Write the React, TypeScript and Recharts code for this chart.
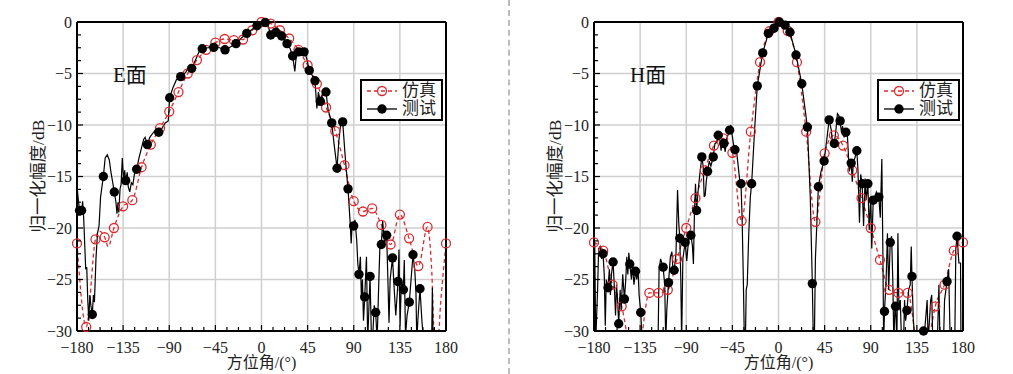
import React from "react";
import { CartesianGrid, ComposedChart, Legend, Line, XAxis, YAxis } from "recharts";

const SERIF = '"Liberation Serif", "Noto Sans CJK SC", serif';
const RED = "#dc2a2e";

const xMajor = [-180, -135, -90, -45, 0, 45, 90, 135, 180];
const xTicks = [
  -180, -168.75, -157.5, -146.25, -135, -123.75, -112.5, -101.25, -90, -78.75, -67.5,
  -56.25, -45, -33.75, -22.5, -11.25, 0, 11.25, 22.5, 33.75, 45, 56.25, 67.5, 78.75,
  90, 101.25, 112.5, 123.75, 135, 146.25, 157.5, 168.75, 180,
];
const yMajor = [0, -5, -10, -15, -20, -25, -30];
const yTicks = [
  0, -1.25, -2.5, -3.75, -5, -6.25, -7.5, -8.75, -10, -11.25, -12.5, -13.75, -15,
  -16.25, -17.5, -18.75, -20, -21.25, -22.5, -23.75, -25, -26.25, -27.5, -28.75, -30,
];

const seriesNames = ["仿真", "测试"];

// E面 仿真 [角度, dB]
const eSim = [
  [-180, -21.5], [-171, -29.6], [-162, -21.1], [-158, -20.3], [-153, -20.9], [-149.5, -21.8],
  [-144, -20.0], [-135, -17.9], [-126, -17.3], [-117, -14.1], [-108, -11.9], [-99, -10.3],
  [-90, -8.7], [-81, -6.8], [-72, -5.0], [-63, -3.7], [-54, -2.7], [-45, -2.0], [-36, -1.65],
  [-27, -1.75], [-18, -1.7], [-9, -0.8], [0, 0], [9, -0.15], [18, -0.8], [27, -1.6],
  [36, -2.7], [45, -4.2], [54, -6.0], [63, -8.3], [72, -10.6], [81, -13.9], [90, -17.4],
  [99, -18.4], [108, -18.1], [117, -19.7], [126, -21.6], [135, -18.7], [144, -21.0],
  [153, -23.7], [162, -19.9], [166, -24], [170, -34], [175, -27], [180, -21.5],
];
const eSimMarks = [
  -180, -171, -162, -153, -144, -135, -126, -117, -108, -99, -90, -81, -72, -63, -54, -45,
  -36, -27, -18, -9, 0, 9, 18, 27, 36, 45, 54, 63, 72, 81, 90, 99, 108, 117, 126, 135, 144,
  153, 162, 180,
];

// E面 测试
const eTest = [
  [-180, -15.8], [-179, -17.0], [-177.5, -18.3], [-175.5, -18.3], [-174.5, -17.4],
  [-173.5, -19], [-171.5, -24], [-170.5, -23.8], [-169.5, -27], [-168.5, -29],
  [-167.5, -26.5], [-166.5, -27.5], [-165.1, -28.4], [-164, -26.5], [-163, -27.2],
  [-161.5, -23], [-160, -20.5], [-158.5, -19.8], [-157, -17], [-154.3, -15.0],
  [-152.5, -13.2], [-150.5, -12.9], [-148.5, -13.4], [-147, -14.5], [-143.6, -16.5],
  [-142, -17.5], [-141, -18.6], [-140, -17.5], [-139.2, -18.5], [-138, -16.2], [-137, -15.8],
  [-135.8, -13.2], [-134.5, -15.5], [-133.5, -14.4], [-132.5, -15.4], [-131, -14.6],
  [-130, -16], [-128.5, -16.5], [-127, -15.6], [-125.5, -15.8], [-124, -14.8],
  [-121.8, -14.3], [-119.5, -13.2], [-117, -12.2], [-115, -11.4], [-113.5, -11.2],
  [-111.4, -11.9], [-109, -11.2], [-106, -10.8], [-103, -10.4], [-100.3, -10.7],
  [-97.5, -10.4], [-94, -9.8], [-91, -9.6], [-89.6, -7.35], [-86.5, -6.4], [-83, -5.6],
  [-78.8, -5.3], [-74, -4.9], [-71, -4.4], [-68.1, -4.5], [-64, -3.6], [-61, -2.9],
  [-57.8, -2.6], [-52, -2.5], [-46.6, -2.46], [-41, -2.5], [-35.6, -2.7], [-30, -2.4],
  [-24.9, -2.1], [-19, -1.5], [-14.4, -1.1], [-9, -0.7], [-4.4, -0.36], [0, -0.1],
  [3.7, -0.05], [6.5, -0.4], [9, -1.26], [14.1, -1.0], [19.7, -1.36], [24.9, -2.1],
  [28, -2.6], [30.4, -3.3], [32.5, -4.8], [34, -3.2], [36.3, -2.9], [41.5, -2.9], [44, -3.5],
  [46.6, -4.7], [49, -5.1], [52.2, -5.7], [54, -8.4], [55.5, -6.8], [57.4, -7.7], [60, -6.9],
  [62.9, -6.8], [65, -8.5], [68.5, -9.8], [71, -12], [73.7, -14.2], [75.5, -11.5],
  [77.5, -9.6], [79.2, -9.7], [82, -13.5], [84.4, -16.2], [86.5, -19.5], [87.5, -21.5],
  [88.5, -19.5], [89.9, -19.8], [91.2, -19.2], [92.9, -21.2], [94, -23.5], [95.1, -24.5],
  [96.5, -22.8], [97.5, -27], [98.5, -25], [99.5, -29], [100.7, -26.7], [102.4, -22.8],
  [103.6, -31], [105.9, -24.7], [107.3, -31], [108.5, -30.5], [110, -27.5], [111.4, -28.2],
  [112.8, -31], [114.5, -25], [115.7, -21.2], [116.9, -21.6], [118.2, -19.3], [120, -21.5],
  [122.1, -20.7], [123.3, -25], [124.4, -29.2], [125.5, -25], [127.8, -22.9], [129.5, -26],
  [131, -28.5], [133.2, -25.2], [134.1, -22.1], [135.2, -29.5], [136.5, -25], [138.4, -26.0],
  [139.3, -23.1], [140.5, -30.5], [142, -28.5], [144.2, -27.2], [147.8, -22.6], [149.5, -24],
  [150.7, -26.3], [151.5, -31], [152.5, -29], [154.6, -25.9], [156.5, -29], [158, -31],
  [166, -31], [166.7, -25.8], [167.4, -31], [180, -31],
];
const eTestMarks = [
  -177.5, -175.5, -165.1, -154.3, -143.6, -132.5, -121.8, -111.4, -100.3, -89.6, -78.8,
  -68.1, -57.8, -46.6, -35.6, -24.9, -14.4, -4.4, 3.7, 9, 14.1, 19.7, 24.9, 30.4, 36.3, 41.5,
  46.6, 52.2, 57.4, 62.9, 68.5, 73.7, 79.2, 84.4, 89.9, 95.1, 100.7, 105.9, 111.4, 116.9,
  122.1, 127.8, 133.2, 138.4, 144.2, 147.8, 154.6,
];

// H面 仿真
const hSim = [
  [-180, -21.4], [-171, -22.2], [-162, -25.5], [-153, -27.6], [-144, -33], [-140, -36],
  [-135, -32], [-126, -26.3], [-117, -26.3], [-108, -26.0], [-99, -23.0], [-90, -20.0],
  [-81, -17.1], [-72, -14.4], [-63, -12.0], [-54, -11.3], [-45, -12.7], [-36, -19.3],
  [-27, -10.65], [-18, -3.9], [-9, -0.9], [0, 0], [9, -0.85], [18, -3.9], [27, -10.65],
  [36, -19.4], [45, -12.75], [54, -11.0], [63, -12.0], [72, -14.4], [81, -17.1], [90, -20.0],
  [99, -23.1], [108, -26.0], [117, -26.3], [126, -26.3], [135, -32], [140, -36], [144, -33],
  [153, -27.6], [162, -25.5], [171, -22.2], [180, -21.4],
];
// markers that fall inside the plotted range
const hSimMarks = [
  -180, -171, -162, -153, -126, -117, -108, -99, -90, -81, -72, -63, -54, -45,
  -36, -27, -18, -9, 0, 9, 18, 27, 36, 45, 54, 63, 72, 81, 90, 99, 108, 117, 126,
  153, 162, 171, 180,
];

// H面 测试
const hTest = [
  [-180, -31], [-179.3, -21.5], [-178.3, -31], [-176.5, -26], [-175.5, -22], [-174, -21.8],
  [-172.5, -23], [-171.2, -22.5], [-170, -24.5], [-169, -29.5], [-168, -25], [-166.3, -25.8],
  [-165, -24], [-164, -26.5], [-163, -24.5], [-161.4, -23.3], [-160, -26], [-159, -28.5],
  [-158, -25.5], [-157, -27], [-155.9, -29.3], [-154.5, -26], [-153.5, -28], [-152, -24.5],
  [-150.3, -26.9], [-149, -25], [-148, -22.8], [-147, -24.5], [-146, -22.4], [-145.1, -23.5],
  [-143.5, -25], [-142.5, -23.6], [-141, -25.5], [-139.5, -24.2], [-138.3, -25], [-137, -24],
  [-136, -26.5], [-134.4, -28.2], [-133, -31], [-117.5, -31], [-116.5, -24], [-115, -23],
  [-112.6, -23.8], [-111, -25.5], [-110, -31], [-109, -28], [-107.3, -25.3], [-105.5, -22.8],
  [-104, -22.3], [-103, -24], [-101.8, -24.1], [-100, -22.5], [-98.5, -16.3], [-97.3, -19.5],
  [-96.3, -21.0], [-95.3, -25], [-94.5, -31], [-93.3, -23], [-91.1, -21.4], [-89.5, -23.2],
  [-88.5, -22], [-87, -20.6], [-85.5, -20.7], [-84, -21.7], [-83, -23.5], [-82, -18.5],
  [-81, -15.7], [-79.9, -18.3], [-78.5, -16.5], [-77, -15], [-74.8, -13.1], [-73.5, -14],
  [-72.5, -17], [-71.5, -16.8], [-70.5, -15.5], [-69.2, -14.5], [-67.5, -13.5], [-66, -14],
  [-63.7, -13.1], [-62, -11.8], [-60.5, -11.7], [-58.8, -11.0], [-57.5, -11.2], [-56, -12.5],
  [-55, -11.5], [-53.3, -11.8], [-52, -12.6], [-50.5, -11.3], [-49, -10.9], [-47.7, -10.5],
  [-46.5, -10.0], [-45.5, -10.8], [-44, -11.8], [-42.5, -12.4], [-41, -12.5], [-39.5, -13.8],
  [-38, -15.2], [-36.6, -15.7], [-35.5, -19], [-34.3, -25], [-33.3, -31], [-32.3, -31],
  [-31.5, -26], [-30.5, -25.5], [-29, -20.5], [-27.5, -17], [-26.2, -15.7], [-23.5, -10.8],
  [-20.7, -6.2], [-15.4, -3.0], [-9.9, -1.1], [-4.4, -0.6], [0.8, 0], [6.4, -0.3],
  [11.2, -1.0], [17.1, -3.2], [22.7, -6.0], [28.2, -10.2], [31, -17], [33, -25.4], [34, -31],
  [35, -31], [36, -23], [38.9, -16.0], [41.5, -14.5], [44.5, -13.5], [47, -11.5], [49.4, -9.5],
  [51.5, -10.5], [52.5, -11.5], [54.5, -11.8], [56, -10.5], [57.5, -8.9], [59, -9.1],
  [60.1, -9.6], [61.5, -10.8], [62.5, -10.1], [64, -11.2], [65.7, -10.7], [67, -10.6],
  [68, -12.5], [69, -14.5], [70.9, -13.7], [72, -15.5], [73, -13.6], [74.5, -13.2],
  [76.4, -12.5], [77.5, -14.3], [79, -19.5], [80.2, -14.8], [81.6, -15.7], [83, -19.8],
  [84.5, -15.2], [85.5, -17.3], [87.2, -15.7], [88.5, -20.2], [90, -17], [91, -22],
  [92.4, -17.3], [94, -17], [95.5, -16.5], [97.9, -17.0], [99.3, -19], [100.8, -13.3],
  [101.8, -22], [102.6, -31], [103.4, -28.1], [105, -25], [106.3, -20.5], [107.5, -26],
  [109, -21.4], [110.3, -20.8], [111.5, -25], [112.5, -31], [113.5, -28], [114.2, -27.6],
  [115.5, -31], [116.5, -20.5], [117.5, -28], [118.8, -27], [120, -31], [122, -31], [123, -27],
  [124, -29], [125.3, -28.0], [127, -26], [128.5, -25.5], [129.5, -21.8], [130.2, -24.7],
  [131.5, -28.8], [133, -31], [141.5, -30], [143, -29.5], [145, -27], [146, -31], [148.5, -27],
  [149.5, -26.5], [150.5, -31], [155, -31], [156.5, -25.5], [157.5, -31], [161, -31],
  [162, -27], [164.4, -25.2], [166, -24], [167.5, -31], [172, -31], [173, -22], [174.2, -20.8],
  [176, -23.4], [177.6, -23.4], [178, -31], [180, -31],
];
const hTestMarks = [
  -171.2, -166.3, -161.4, -155.9, -150.3, -145.1, -139.5, -134.4, -112.6, -107.3, -101.8,
  -96.3, -91.1, -85.5, -79.9, -74.8, -69.2, -63.7, -58.8, -53.3, -47.7, -42.5, -36.6, -26.2,
  -20.7, -15.4, -9.9, -4.4, 0.8, 6.4, 11.2, 17.1, 22.7, 28.2, 33, 38.9, 44.5, 49.4, 54.5,
  60.1, 65.7, 70.9, 76.4, 81.6, 87.2, 92.4, 97.9, 103.4, 109, 114.2, 125.3, 130.2, 141.5,
  164.4, 174.2,
];

const fmt = (v) => (v < 0 ? "\u2212" + Math.abs(v) : String(v));

function XTick({ x, y, payload }) {
  const major = payload.value % 45 === 0;
  return (
    <g>
      <line x1={x} x2={x} y1={y} y2={y - (major ? 6 : 4)} stroke="#000" strokeWidth={1.2} />
      {major && (
        <text x={x} y={y + 22} textAnchor="middle" fontSize={16} fontFamily={SERIF} fill="#222">
          {fmt(payload.value)}
        </text>
      )}
    </g>
  );
}

function YTick({ x, y, payload }) {
  const major = payload.value % 5 === 0;
  return (
    <g>
      <line x1={x} x2={x + (major ? 6 : 4)} y1={y} y2={y} stroke="#000" strokeWidth={1.2} />
      {major && (
        <text x={x - 5} y={y + 5.5} textAnchor="end" fontSize={16} fontFamily={SERIF} fill="#222">
          {fmt(payload.value)}
        </text>
      )}
    </g>
  );
}

function LegendBox() {
  const row = { display: "flex", alignItems: "center", height: 18, whiteSpace: "nowrap" };
  return (
    <div
      style={{
        border: "2px solid #000",
        background: "#fff",
        padding: "1px 3px 1px 4px",
        width: 72,
        fontFamily: SERIF,
        fontSize: 17,
        lineHeight: "18px",
        color: "#222",
      }}
    >
      <div style={row}>
        <svg width={32} height={12}>
          <line x1={1} x2={31} y1={6} y2={6} stroke={RED} strokeWidth={1.3} strokeDasharray="4 3" />
          <circle cx={16} cy={6} r={4.5} fill="none" stroke={RED} strokeWidth={1.3} />
        </svg>
        <span style={{ marginLeft: 4 }}>{seriesNames[0]}</span>
      </div>
      <div style={row}>
        <svg width={32} height={12}>
          <line x1={1} x2={31} y1={6} y2={6} stroke="#000" strokeWidth={1.3} />
          <circle cx={16} cy={6} r={4.7} fill="#000" />
        </svg>
        <span style={{ marginLeft: 4 }}>{seriesNames[1]}</span>
      </div>
    </div>
  );
}

function Panel({ left, title, sim, simMarks, test, testMarks }) {
  const simData = sim.map(([x, y]) => ({ x, y }));
  const testData = test.map(([x, y]) => ({ x, y }));
  const simMarkData = simData.filter((d) => simMarks.includes(d.x));
  const testMarkData = testData.filter((d) => testMarks.includes(d.x));
  const frame = { stroke: "#000", strokeWidth: 2 };

  return (
    <div style={{ position: "absolute", left, top: 0, width: 496, height: 374 }}>
      <ComposedChart width={496} height={374} margin={{ top: 21, right: 49, bottom: 42, left: 76 }}>
        <CartesianGrid stroke="#cfcfcf" strokeWidth={1.5} verticalValues={xMajor} horizontalValues={yMajor} />
        <XAxis
          type="number"
          dataKey="x"
          domain={[-180, 180]}
          ticks={xTicks}
          interval={0}
          allowDataOverflow
          height={1}
          tickSize={0}
          tickMargin={0}
          tickLine={false}
          axisLine={frame}
          tick={<XTick />}
        />
        <XAxis
          xAxisId="top"
          orientation="top"
          type="number"
          domain={[-180, 180]}
          ticks={xMajor}
          height={1}
          tick={false}
          tickLine={false}
          axisLine={frame}
        />
        <YAxis
          type="number"
          domain={[-30, 0]}
          ticks={yTicks}
          interval={0}
          allowDataOverflow
          width={1}
          tickSize={0}
          tickMargin={0}
          tickLine={false}
          axisLine={frame}
          tick={<YTick />}
        />
        <YAxis
          yAxisId="right"
          orientation="right"
          type="number"
          domain={[-30, 0]}
          ticks={yMajor}
          width={1}
          tick={false}
          tickLine={false}
          axisLine={frame}
        />
        <Line
          data={simData}
          dataKey="y"
          type="monotone"
          stroke={RED}
          strokeWidth={1.3}
          strokeDasharray="4 3"
          dot={false}
          activeDot={false}
          isAnimationActive={false}
          name={seriesNames[0]}
        />
        <Line
          data={simMarkData}
          dataKey="y"
          stroke="none"
          dot={{ r: 4.5, fill: "none", stroke: RED, strokeWidth: 1.3, clipDot: false }}
          activeDot={false}
          isAnimationActive={false}
          legendType="none"
        />
        <Line
          data={testData}
          dataKey="y"
          type="linear"
          stroke="#000"
          strokeWidth={1.2}
          dot={false}
          activeDot={false}
          isAnimationActive={false}
          name={seriesNames[1]}
        />
        <Line
          data={testMarkData}
          dataKey="y"
          stroke="none"
          dot={{ r: 4.7, fill: "#000", stroke: "none", clipDot: false }}
          activeDot={false}
          isAnimationActive={false}
          legendType="none"
        />
        <Legend
          layout="vertical"
          align="center"
          verticalAlign="middle"
          content={() => <LegendBox />}
          wrapperStyle={{ left: 360, top: 79, width: 80, height: 40 }}
        />
      </ComposedChart>
      <div style={{ position: "absolute", left: 113, top: 65, fontFamily: SERIF, fontSize: 21, lineHeight: 1, color: "#111" }}>
        {title}
      </div>
      <div
        style={{
          position: "absolute",
          left: 77,
          width: 369,
          top: 355,
          textAlign: "center",
          fontFamily: SERIF,
          fontSize: 16,
          lineHeight: 1,
          color: "#222",
        }}
      >
        方位角/(°)
      </div>
      <div
        style={{
          position: "absolute",
          left: 38 - 70,
          top: 176 - 10,
          width: 140,
          textAlign: "center",
          transform: "rotate(-90deg)",
          fontFamily: SERIF,
          fontSize: 17.5,
          lineHeight: "20px",
          color: "#222",
        }}
      >
        归一化幅度/dB
      </div>
    </div>
  );
}

export default function App() {
  return (
    <div style={{ position: "absolute", left: 0, top: 0, width: 1013, height: 374, background: "#fff", overflow: "hidden" }}>
      <Panel left={0} title="E面" sim={eSim} simMarks={eSimMarks} test={eTest} testMarks={eTestMarks} />
      <div style={{ position: "absolute", left: 508, top: 0, height: 374, borderLeft: "2px dashed #bdbdbd" }} />
      <Panel left={517} title="H面" sim={hSim} simMarks={hSimMarks} test={hTest} testMarks={hTestMarks} />
    </div>
  );
}
